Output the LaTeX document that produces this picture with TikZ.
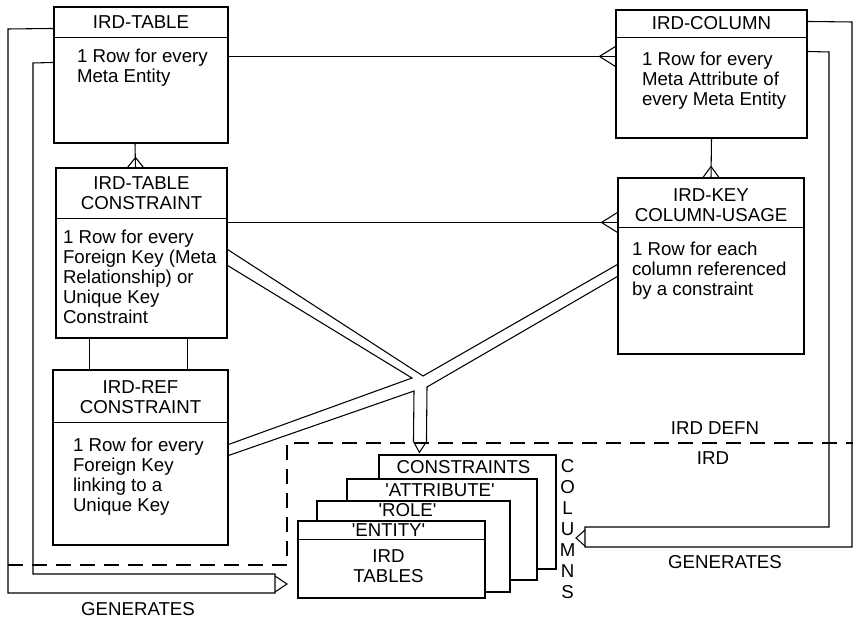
\documentclass[tikz,border=0pt]{standalone}
\usepackage{fontspec}
\setmainfont{Liberation Sans}
\usetikzlibrary{calc, fit}

\tikzset{
  ent/.style={draw, fill=white, inner sep=0pt},
  hdr/.style={align=center, font=\fontsize{14}{15}\selectfont},
  txt/.style={align=left, anchor=north west, inner sep=0pt, font=\fontsize{14}{15}\selectfont},
  pipe/.style={line join=miter},
  bound/.style={dash pattern=on 11pt off 7pt}
}

\begin{document}
\begin{tikzpicture}[x=0.75pt, y=-0.75pt, line width=0.8pt]
  \useasboundingbox (0,0) rectangle (853,620);

  % IRD DEFN / IRD boundary
  \draw[bound] (8,565) -- (287,565) -- (287,443) -- (853,443);
  \node[hdr] (defn) at (715,428) {IRD DEFN};
  \node[hdr] (ird)  at (713,458) {IRD};

  % meta entities
  \node[ent, fit={(54,7) (228,143)}]    (tab) {};
  \node[ent, fit={(616,10) (807,138)}]  (col) {};
  \node[ent, fit={(56,168) (227,338)}]  (tc)  {};
  \node[ent, fit={(618,178) (804,354)}] (key) {};
  \node[ent, fit={(53,370) (228,545)}]  (ref) {};

  \draw ($(tab.north west)+(0,31)$) -- ($(tab.north east)+(0,31)$);
  \draw ($(col.north west)+(0,28)$) -- ($(col.north east)+(0,28)$);
  \draw ($(tc.north west)+(0,51)$)  -- ($(tc.north east)+(0,51)$);
  \draw ($(key.north west)+(0,50)$) -- ($(key.north east)+(0,50)$);
  \draw ($(ref.north west)+(0,53)$) -- ($(ref.north east)+(0,53)$);

  \node[hdr] (tabT) at ($(tab.north)+(0,16)$) {IRD-TABLE};
  \node[hdr] (colT) at ($(col.north)+(0,14)$) {IRD-COLUMN};
  \node[hdr] (tcT)  at ($(tc.north)+(0,26)$)  {IRD-TABLE\\CONSTRAINT};
  \node[hdr] (keyT) at ($(key.north)+(0,28)$) {IRD-KEY\\COLUMN-USAGE};
  \node[hdr] (refT) at ($(ref.north)+(0,28)$) {IRD-REF\\CONSTRAINT};

  \node[txt] (tabB) at ($(tab.north west)+(23,42)$) {1 Row for every\\Meta Entity};
  \node[txt] (colB) at ($(col.north west)+(26,42)$) {1 Row for every\\Meta Attribute of\\every Meta Entity};
  \node[txt] (tcB)  at ($(tc.north west)+(7,62)$)   {1 Row for every\\Foreign Key (Meta\\Relationship) or\\Unique Key\\Constraint};
  \node[txt] (keyB) at ($(key.north west)+(14,64)$) {1 Row for each\\column referenced\\by a constraint};
  \node[txt] (refB) at ($(ref.north west)+(20,68)$) {1 Row for every\\Foreign Key\\linking to a\\Unique Key};

  % relationships
  \draw ($(tab.south)+(-6,0)$) -- ($(tc.north)+(-6,0)$);
  \draw ($(tc.north)+(-14,0)$) -- ($(tc.north)+(-6,-10)$) -- ($(tc.north)+(2,0)$);
  \draw (col.south) -- (key.north);
  \draw ($(key.north)+(-8,0)$) -- ($(key.north)+(0,-11)$) -- ($(key.north)+(8,0)$);
  \draw ($(tab.north east)+(0,50)$) -- ($(col.north west)+(0,47)$);
  \draw ($(col.north west)+(0,37)$) -- ($(col.north west)+(-16,47)$) -- ($(col.north west)+(0,57)$);
  \draw ($(tc.north east)+(0,55)$) -- ($(key.north west)+(0,45)$);
  \draw ($(key.north west)+(0,35)$) -- ($(key.north west)+(-16,45)$) -- ($(key.north west)+(0,55)$);
  \draw ($(tc.south west)+(34,0)$) -- ($(ref.north west)+(37,0)$);
  \draw ($(tc.south east)+(-40,0)$) -- ($(ref.north east)+(-41,0)$);

  % IRD tables
  \node[ent, fit={(379,455) (556,569)}] (cons) {};
  \node[ent, fit={(347,479) (537,580)}] (attr) {};
  \node[ent, fit={(317,501) (510,592)}] (role) {};
  \node[ent, fit={(298,521) (485,598)}] (enty) {};
  \draw ($(enty.north west)+(0,19)$) -- ($(enty.north east)+(0,19)$);
  \node[hdr] (consT) at ($(cons.north)+(-4,13)$)  {CONSTRAINTS};
  \node[hdr] (attrT) at ($(attr.north)+(-2,12)$)  {\textquotesingle ATTRIBUTE\textquotesingle};
  \node[hdr] (roleT) at ($(role.north)+(-6,10)$)  {\textquotesingle ROLE\textquotesingle};
  \node[hdr] (entyT) at ($(enty.north)+(-3,9.5)$) {\textquotesingle ENTITY\textquotesingle};
  \node[hdr] (entyB) at ($(enty.north)+(-3,46)$)  {IRD\\TABLES};
  \node[hdr, font=\fontsize{14}{15.75}\selectfont] (colsT) at ($(cons.north east)+(11,75)$) {C\\O\\L\\U\\M\\N\\S};

  % constraint pipes
  \coordinate (jA) at (423,376);
  \coordinate (jB) at (412,378);
  \coordinate (jL) at (414,391);
  \coordinate (jR) at (427,387);
  \coordinate (sT) at ($(cons.north west)+(41,-2)$);
  \draw[pipe] ($(tc.north east)+(0,82)$) -- (jA) -- ($(key.north west)+(0,87)$);
  \draw[pipe] ($(tc.north east)+(0,98)$) -- (jB) -- ($(ref.north east)+(0,75)$);
  \draw[pipe] ($(ref.north east)+(0,86)$) -- (jL) -- ($(sT)+(-6,-11)$) -- (sT)
              -- ($(sT)+(7,-11)$) -- (jR) -- ($(key.north west)+(0,99)$);

  % generates
  \coordinate (genL) at (287,584);
  \coordinate (genR) at (576,538);
  \draw[pipe] ($(tab.north west)+(0,22)$) -- (8,29) -- (8,593) -- (275,593) -- (275,574)
              -- (33,574) -- (33,63) -- ($(tab.north west)+(0,56)$);
  \draw[pipe] ($(genL)+(-12,-8)$) -- (genL) -- ($(genL)+(-12,8)$);
  \draw[pipe] ($(col.north east)+(0,12)$) -- (852,22) -- (852,547) -- (585,547) -- (585,527)
              -- (829,527) -- (829,52) -- ($(col.north east)+(0,42)$);
  \draw[pipe] ($(genR)+(9,-8)$) -- (genR) -- ($(genR)+(9,8)$);
  \node[hdr, inner sep=1pt] (genLT) at (138,609) {GENERATES};
  \node[hdr] (genRT) at (725,562) {GENERATES};
\end{tikzpicture}
\end{document}
